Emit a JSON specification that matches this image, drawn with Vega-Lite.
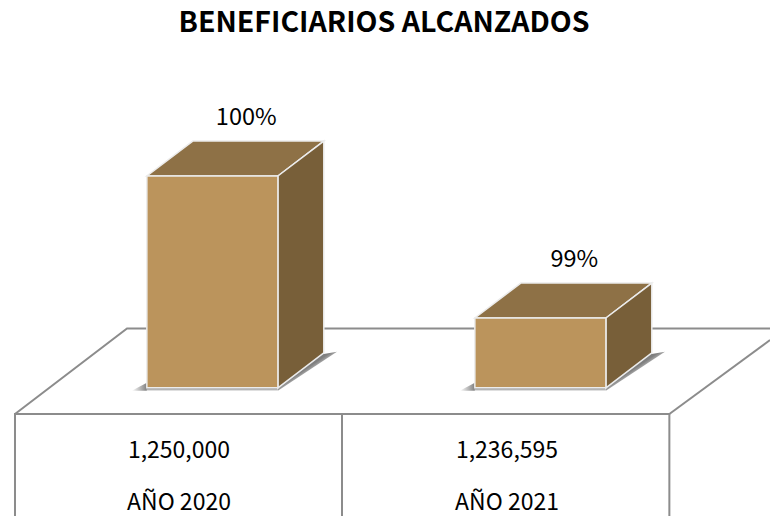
{
"$schema":"https://vega.github.io/schema/vega-lite/v6.json",
"width":770,"height":516,"autosize":"none","padding":0,
"background":"white",
"config":{"view":{"stroke":null}},
"title":{"text":"BENEFICIARIOS ALCANZADOS","anchor":"middle","font":"Noto Sans CJK SC","fontSize":28.5,"fontWeight":"bold","color":"#000000","offset":-37.5,"dx":-1},
"datasets":{
"barras":[
{"anio":"AÑO 2020","beneficiarios":1250000,"porcentaje":"100%","i":0},
{"anio":"AÑO 2021","beneficiarios":1236595,"porcentaje":"99%","i":1}
],
"piso":[
{"seg":"a","n":0,"u":0,"v":1227533},
{"seg":"a","n":1,"u":0.3415,"v":1235600},
{"seg":"a","n":2,"u":2.302,"v":1235600},
{"seg":"b","n":0,"u":0,"v":1217904},
{"seg":"b","n":1,"u":0,"v":1227533},
{"seg":"b","n":2,"u":1.995,"v":1227533},
{"seg":"b","n":3,"u":1.995,"v":1217904},
{"seg":"c","n":0,"u":1.995,"v":1227533},
{"seg":"c","n":1,"u":2.302,"v":1234518},
{"seg":"d","n":0,"u":0.997,"v":1227533},
{"seg":"d","n":1,"u":0.997,"v":1217904}
]
},
"data":{"name":"barras"},
"transform":[
{"calculate":"datum.i+0.402","as":"x0"},
{"calculate":"datum.i+0.8015","as":"x1"},
{"calculate":"1230000","as":"base"},
{"calculate":"[0,1]","as":"t"},
{"flatten":["t"]},
{"calculate":"datum.x1+datum.t*0.14","as":"xLado"},
{"calculate":"datum.beneficiarios+datum.t*3300","as":"yLado"},
{"calculate":"datum.base+datum.t*3300","as":"yLadoBase"},
{"calculate":"datum.x0+datum.t*0.14","as":"xTecho0"},
{"calculate":"datum.x1+datum.t*0.14","as":"xTecho1"},
{"calculate":"datum.x1+datum.t*0.18","as":"xSombra"},
{"calculate":"datum.base-283+datum.t*3681","as":"ySombra1"},
{"calculate":"datum.base+2454+datum.t*944","as":"ySombra0"},
{"calculate":"datum.x0-0.046+datum.t*0.046","as":"xCola"},
{"calculate":"datum.base-283+datum.t*755","as":"yCola"},
{"calculate":"datum.base-283","as":"yPie"},
{"calculate":"datum.i+0.5","as":"centro"},
{"calculate":"datum.i+0.705","as":"xPct"},
{"calculate":"datum.beneficiarios+3300","as":"yPct"}
],
"encoding":{},
"layer":[
{"data":{"name":"piso"},"transform":[],
"mark":{"type":"line","stroke":"#8c8c8c","strokeWidth":2,"clip":true},
"encoding":{
"x":{"field":"u","type":"quantitative","scale":{"domain":[-0.0457,2.3018],"nice":false,"zero":false},"axis":null},
"y":{"field":"v","type":"quantitative","scale":{"domain":[1217904,1266614],"nice":false,"zero":false},"axis":null},
"detail":{"field":"seg"},
"order":{"field":"n"}}},
{"mark":{"type":"area","fill":{"gradient":"linear","x1":0.25,"y1":0.25,"x2":0.62,"y2":0.62,"stops":[{"offset":0,"color":"#707070"},{"offset":0.55,"color":"#808080"},{"offset":1,"color":"#ffffff"}]}},
"encoding":{
"x":{"field":"xSombra","type":"quantitative"},
"y":{"field":"ySombra0","type":"quantitative"},
"y2":{"field":"ySombra1"},
"detail":{"field":"anio"}}},
{"mark":{"type":"area","fill":{"gradient":"linear","x1":0,"y1":0,"x2":1,"y2":0,"stops":[{"offset":0,"color":"#ffffff"},{"offset":1,"color":"#808080"}]}},
"encoding":{
"x":{"field":"xCola","type":"quantitative"},
"y":{"field":"yCola","type":"quantitative"},
"y2":{"field":"yPie"},
"detail":{"field":"anio"}}},
{"transform":[{"filter":"datum.t==0"}],
"mark":{"type":"rect","fill":{"gradient":"linear","x1":0,"y1":0,"x2":0,"y2":1,"stops":[{"offset":0,"color":"#808080"},{"offset":1,"color":"#e0e0e0"}]}},
"encoding":{
"x":{"field":"x0","type":"quantitative"},
"x2":{"field":"x1"},
"y":{"field":"base","type":"quantitative"},
"y2":{"field":"yPie"}}},
{"mark":{"type":"area","orient":"horizontal","fill":"#8e7146","stroke":"#ececec","strokeWidth":1.5},
"encoding":{
"x":{"field":"xTecho0","type":"quantitative"},
"x2":{"field":"xTecho1"},
"y":{"field":"yLado","type":"quantitative"},
"detail":{"field":"anio"}}},
{"mark":{"type":"area","fill":"#785f39","stroke":"#ececec","strokeWidth":1.5},
"encoding":{
"x":{"field":"xLado","type":"quantitative"},
"y":{"field":"yLado","type":"quantitative"},
"y2":{"field":"yLadoBase"},
"detail":{"field":"anio"}}},
{"transform":[{"filter":"datum.t==0"}],
"mark":{"type":"rect","fill":"#bb945c","stroke":"#ececec","strokeWidth":1.5},
"encoding":{
"x":{"field":"x0","type":"quantitative"},
"x2":{"field":"x1"},
"y":{"field":"beneficiarios","type":"quantitative"},
"y2":{"field":"base"}}},
{"transform":[{"filter":"datum.t==0"}],
"mark":{"type":"text","font":"Noto Sans CJK SC","fontSize":23.5,"color":"#000000","align":"center","baseline":"middle","dy":-23.5},
"encoding":{
"x":{"field":"xPct","type":"quantitative"},
"y":{"field":"yPct","type":"quantitative"},
"text":{"field":"porcentaje"}}},
{"transform":[{"filter":"datum.t==0"}],
"mark":{"type":"text","font":"Noto Sans CJK SC","fontSize":23,"color":"#000000","align":"center","baseline":"middle"},
"encoding":{
"x":{"field":"centro","type":"quantitative"},
"y":{"datum":1224040,"type":"quantitative"},
"text":{"field":"beneficiarios","type":"quantitative","format":",d"}}},
{"transform":[{"filter":"datum.t==0"}],
"mark":{"type":"text","font":"Noto Sans CJK SC","fontSize":23,"color":"#000000","align":"center","baseline":"middle"},
"encoding":{
"x":{"field":"centro","type":"quantitative"},
"y":{"datum":1219130,"type":"quantitative"},
"text":{"field":"anio"}}}
]
}
